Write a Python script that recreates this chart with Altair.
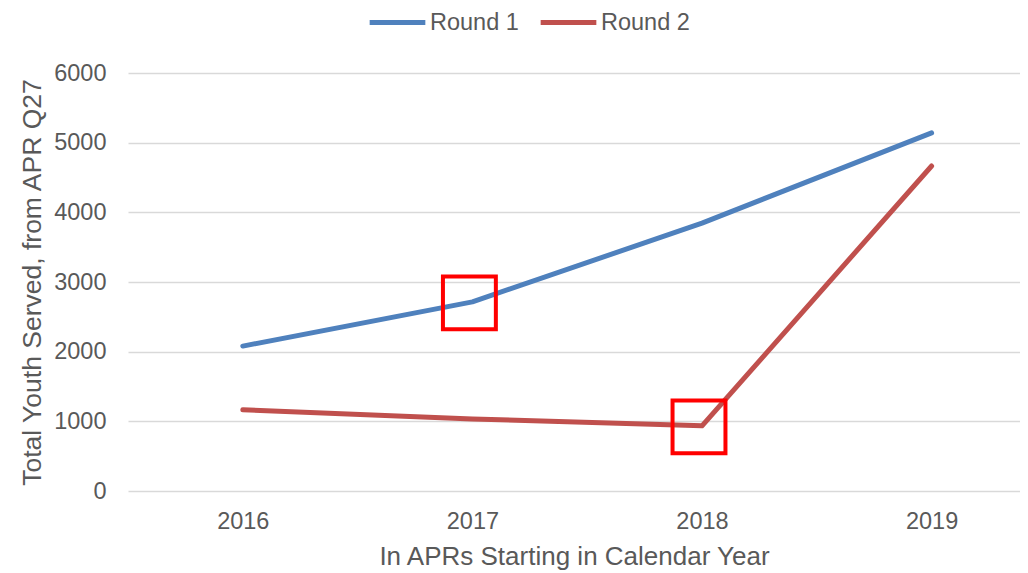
import altair as alt
import pandas as pd

years = [2016, 2017, 2018, 2019]
round1 = [2080, 2715, 3845, 5140]
round2 = [1165, 1035, 935, 4665]
series_names = ["Round 1", "Round 2"]
series_colors = ["#4F81BD", "#C0504D"]
y_ticks = [0, 1000, 2000, 3000, 4000, 5000, 6000]

# highlighted points (year, series)
hl_years = [2017, 2018]
hl_series = ["Round 1", "Round 2"]

rows = []
for y, a, b in zip(years, round1, round2):
    rows.append({"year": y, "value": a, "series": "Round 1"})
    rows.append({"year": y, "value": b, "series": "Round 2"})
df = pd.DataFrame(rows)

hl_keys = list(zip(hl_years, hl_series))
hl = df[[(r.year, r.series) in hl_keys for r in df.itertuples()]]

FONT = "Liberation Sans"
TXT = "#595959"

x_enc = alt.X(
    "year:Q",
    scale=alt.Scale(domain=[2015.5, 2019.385], nice=False, zero=False),
    axis=alt.Axis(
        values=years, format="d", grid=False, ticks=False, domain=False,
        labelFontSize=23.5, labelColor=TXT, labelFont=FONT, labelPadding=18,
        title="In APRs Starting in Calendar Year", titleFontSize=26,
        titleColor=TXT, titleFont=FONT, titleFontWeight="normal", titlePadding=11,
    ),
)
y_enc = alt.Y(
    "value:Q",
    scale=alt.Scale(domain=[0, 6000], nice=False),
    axis=alt.Axis(
        values=y_ticks, format="d", grid=True, gridColor="#D9D9D9", gridWidth=1.5,
        ticks=False, domain=False,
        labelFontSize=23.5, labelColor=TXT, labelFont=FONT, labelPadding=22,
        title="Total Youth Served, from APR Q27", titleFontSize=26.5,
        titleColor=TXT, titleFont=FONT, titleFontWeight="normal", titlePadding=7,
    ),
)

lines = alt.Chart(df).mark_line(strokeWidth=5, strokeCap="round", strokeJoin="round").encode(
    x=x_enc,
    y=y_enc,
    color=alt.Color(
        "series:N",
        scale=alt.Scale(domain=series_names, range=series_colors),
        legend=alt.Legend(
            title=None, orient="none", direction="horizontal",
            legendX=239, legendY=-81,
            symbolType="stroke", symbolSize=3100, symbolStrokeWidth=5,
            labelFontSize=23.5, labelColor=TXT, labelFont=FONT,
            labelOffset=2, columnPadding=11,
        ),
    ),
)

boxes = alt.Chart(hl).mark_point(
    shape="square", filled=False, size=2800, strokeWidth=4, color="#FF0000",
    opacity=1, xOffset=-3, yOffset=1
).encode(x="year:Q", y="value:Q")

chart = (
    alt.layer(lines, boxes)
    .properties(
        width=892, height=418,
        autosize=alt.AutoSizeParams(type="none"),
        padding={"left": 120, "top": 65, "right": 0, "bottom": 82},
    )
    .configure_view(stroke=None)
)

chart.save("out.html", embed_options={"renderer": "svg", "actions": False})
